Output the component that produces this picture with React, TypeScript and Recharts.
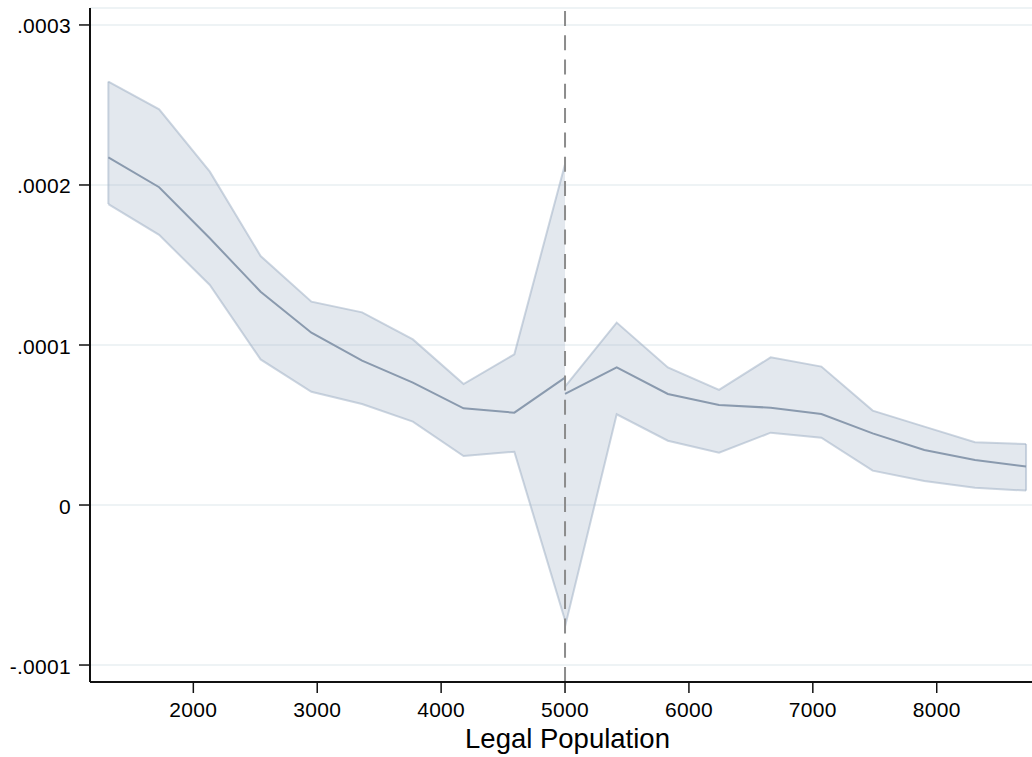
import React from "react";
import {
  ComposedChart, Area, Line, XAxis, YAxis, CartesianGrid, ReferenceLine,
} from "recharts";

// bins below the 5000 cutoff
const popLeft = [1314, 1724, 2133, 2543, 2953, 3362, 3772, 4181, 4591, 5000];
const meanLeft = [0.0002173, 0.0001986, 0.0001667, 0.0001333, 0.0001077, 0.0000902, 0.0000765, 0.0000604, 0.0000577, 0.0000796];
const upperLeft = [0.0002646, 0.0002473, 0.0002083, 0.0001556, 0.0001271, 0.0001204, 0.0001035, 0.0000756, 0.0000942, 0.000213];
const lowerLeft = [0.0001881, 0.0001688, 0.0001375, 0.000091, 0.0000708, 0.0000631, 0.0000521, 0.0000306, 0.0000333, -0.000072];

// bins above the cutoff
const popRight = [5000, 5417, 5830, 6243, 6660, 7069, 7483, 7900, 8309, 8721];
const meanRight = [0.0000694, 0.000086, 0.0000694, 0.0000625, 0.0000608, 0.0000569, 0.0000448, 0.0000344, 0.0000281, 0.000024];
const upperRight = [0.000074, 0.000114, 0.000086, 0.0000719, 0.0000923, 0.0000865, 0.000059, 0.000049, 0.0000392, 0.0000381];
const lowerRight = [-0.000076, 0.0000567, 0.0000402, 0.0000327, 0.0000452, 0.0000421, 0.0000215, 0.000015, 0.0000108, 0.000009];

const xTicks = [2000, 3000, 4000, 5000, 6000, 7000, 8000];
const yTicks = [-0.0001, 0, 0.0001, 0.0002, 0.0003];
const cutoff = 5000;

const leftData = popLeft.map((p, i) => ({ pop: p, mean: meanLeft[i], band: [lowerLeft[i], upperLeft[i]] }));
const rightData = popRight.map((p, i) => ({ pop: p, mean: meanRight[i], band: [lowerRight[i], upperRight[i]] }));

// closing vertical edges of the bands at the outer ends
const edgeFirst = [
  { pop: popLeft[0], v: lowerLeft[0] },
  { pop: popLeft[0], v: upperLeft[0] },
];
const last = popRight.length - 1;
const edgeLast = [
  { pop: popRight[last], v: lowerRight[last] },
  { pop: popRight[last], v: upperRight[last] },
];

const FONT = "'Liberation Sans', Arial, Helvetica, sans-serif";

function fmtY(v: number) {
  if (Math.abs(v) < 1e-12) return "0";
  return (v < 0 ? "-" : "") + Math.abs(v).toFixed(4).replace(/^0/, "");
}

function XTick({ x, y, payload }: any) {
  return (
    <text x={x} y={y} dy="0.716em" textAnchor="middle" fontSize={21} fontFamily={FONT} fill="#000" style={{ letterSpacing: "0.3px" }}>
      {payload.value}
    </text>
  );
}

function YTick({ x, y, payload }: any) {
  return (
    <text x={x} y={y} dy={8.5} textAnchor="end" fontSize={21} fontFamily={FONT} fill="#000" style={{ letterSpacing: "0.3px" }}>
      {fmtY(payload.value)}
    </text>
  );
}

function Title({ viewBox }: any) {
  const { x, y, width } = viewBox;
  return (
    <text x={x + width / 2 + 6.5} y={y + 66} textAnchor="middle" fontSize={27.5} fontFamily={FONT} fill="#000">
      Legal Population
    </text>
  );
}

export default function App() {
  const band = { fill: "#a3b3c6", fillOpacity: 0.3, stroke: "#a3b3c6", strokeOpacity: 0.55, strokeWidth: 2 };
  const edge = { stroke: "#a3b3c6", strokeOpacity: 0.55, strokeWidth: 2, dot: false, isAnimationActive: false };
  return (
    <div style={{ position: "absolute", left: 0, top: 0, background: "#fff" }}>
      <ComposedChart width={1032} height={757} margin={{ top: 8, right: 0, bottom: 0, left: 0 }}>
        <CartesianGrid vertical={false} stroke="#e9eff2" strokeWidth={1.5} />
        <XAxis
          dataKey="pop" type="number" domain={[1166, 8769]} ticks={xTicks} allowDataOverflow
          height={75} tickSize={11} tickMargin={9} tick={<XTick />}
          axisLine={{ stroke: "#111", strokeWidth: 2 }} tickLine={{ stroke: "#111", strokeWidth: 1.5 }}
          label={<Title />}
        />
        <YAxis
          type="number" domain={[-0.0001106, 0.0003106]} ticks={yTicks} allowDataOverflow
          width={90} tickSize={11} tickMargin={8} tick={<YTick />}
          axisLine={{ stroke: "#111", strokeWidth: 2 }} tickLine={{ stroke: "#111", strokeWidth: 1.5 }}
        />
        <Area data={leftData} dataKey="band" type="linear" {...band} isAnimationActive={false} />
        <Area data={rightData} dataKey="band" type="linear" {...band} isAnimationActive={false} />
        <Line data={edgeFirst} dataKey="v" type="linear" {...edge} />
        <Line data={edgeLast} dataKey="v" type="linear" {...edge} />
        <Line data={leftData} dataKey="mean" type="linear" stroke="#8a9aae" strokeWidth={2} dot={false} isAnimationActive={false} />
        <Line data={rightData} dataKey="mean" type="linear" stroke="#8a9aae" strokeWidth={2} dot={false} isAnimationActive={false} />
        <ReferenceLine x={cutoff} stroke="#8c8c8c" strokeWidth={2} strokeDasharray="15 9.3" />
      </ComposedChart>
    </div>
  );
}
